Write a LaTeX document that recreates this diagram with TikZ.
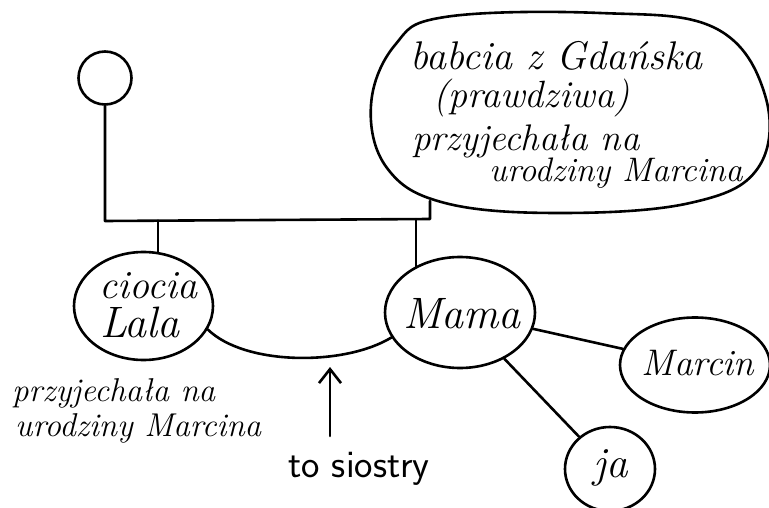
\documentclass[tikz,border=0pt]{standalone}
\usepackage{fontspec}
\usetikzlibrary{shapes.geometric,arrows.meta,backgrounds}
\begin{document}
\begin{tikzpicture}[x=1pt,y=-1pt,
  lines/.style={line width=2.6pt,line join=round,line cap=round},
  person/.style={draw,ellipse,fill=white,inner sep=0pt,lines},
  hand/.style={font=\fontsize{#1}{37}\selectfont\itshape,anchor=base,inner sep=0pt},
  note/.style={font=\fontsize{33}{35}\selectfont\itshape,anchor=base west,inner sep=0pt},
  bubbletext/.style={font=\fontsize{#1}{40}\selectfont\itshape,anchor=base west,inner sep=0pt}]
\useasboundingbox (0,0) rectangle (769,508);

% grandfather
\node[draw,circle,fill=white,minimum size=53pt,inner sep=0pt,lines] (dziadek) at (105,78) {};

% grandmother's speech bubble
\draw[lines,fill=white] plot[smooth cycle,tension=0.65] coordinates {
  (445,17) (600,13) (715,28) (765,95) (758,168) (690,203)
  (560,213) (445,203) (387,168) (371,105) (395,45)};
\coordinate (babciaDol) at (430,201);
\node[bubbletext=40] (b1) at (410,70) {babcia z Gdańska};
\node[bubbletext=38] (b2) at (433,108) {(prawdziwa)};
\node[bubbletext=37] (b3) at (412,151) {przyjechała na};
\node[bubbletext=34] (b4) at (489,182) {urodziny Marcina};

% the children and grandchildren
\node[person,minimum width=139pt,minimum height=108pt] (ciocia) at (143.5,306) {};
\node[person,minimum width=150pt,minimum height=111pt] (mama) at (460,312.5) {};
\node[person,minimum width=150pt,minimum height=95pt] (marcin) at (695,365) {};
\node[person,minimum width=90pt,minimum height=84pt] (ja) at (610,469) {};
\node[hand=40] (ciociaT1) at (148,298) {ciocia};
\node[hand=44] (ciociaT2) at (140,337) {Lala};
\node[hand=44] (mamaT) at (462,328) {Mama};
\node[hand=37] (marcinT) at (698,375) {Marcin};
\node[hand=43] (jaT) at (611,477) {ja};

% notes
\node[note] (n1) at (12,401) {przyjechała na};
\node[note] (n2) at (15,436) {urodziny Marcina};
\node[font=\fontsize{39}{40}\selectfont\sffamily,anchor=base west,inner sep=0pt] (siostry) at (288,477) {to siostry};

% family lines
\coordinate (kL) at (105,221);
\coordinate (kR) at (430,219);
\coordinate (kC) at (158,220.6);
\coordinate (kM) at (416,219.2);
\begin{scope}[on background layer]
  \draw[lines] (dziadek) -- (kL) -- (kR) -- (babciaDol);
  \draw[lines] (kC) -- (kC |- ciocia.center);
  \draw[lines] (kM) -- (kM |- mama.center);
\end{scope}
\draw[lines] (ciocia.-20) .. controls (245,366) and (345,366) .. (mama.200);
\draw[lines] (mama) -- (marcin);
\draw[lines] (mama) -- (ja);

% arrow pointing at the sisters' link
\coordinate (strzalkaDol) at (330,436);
\coordinate (strzalkaGora) at (330,367);
\draw[lines,-{Straight Barb[length=14pt,width=22pt]}] (strzalkaDol) -- (strzalkaGora);
\end{tikzpicture}
\end{document}
